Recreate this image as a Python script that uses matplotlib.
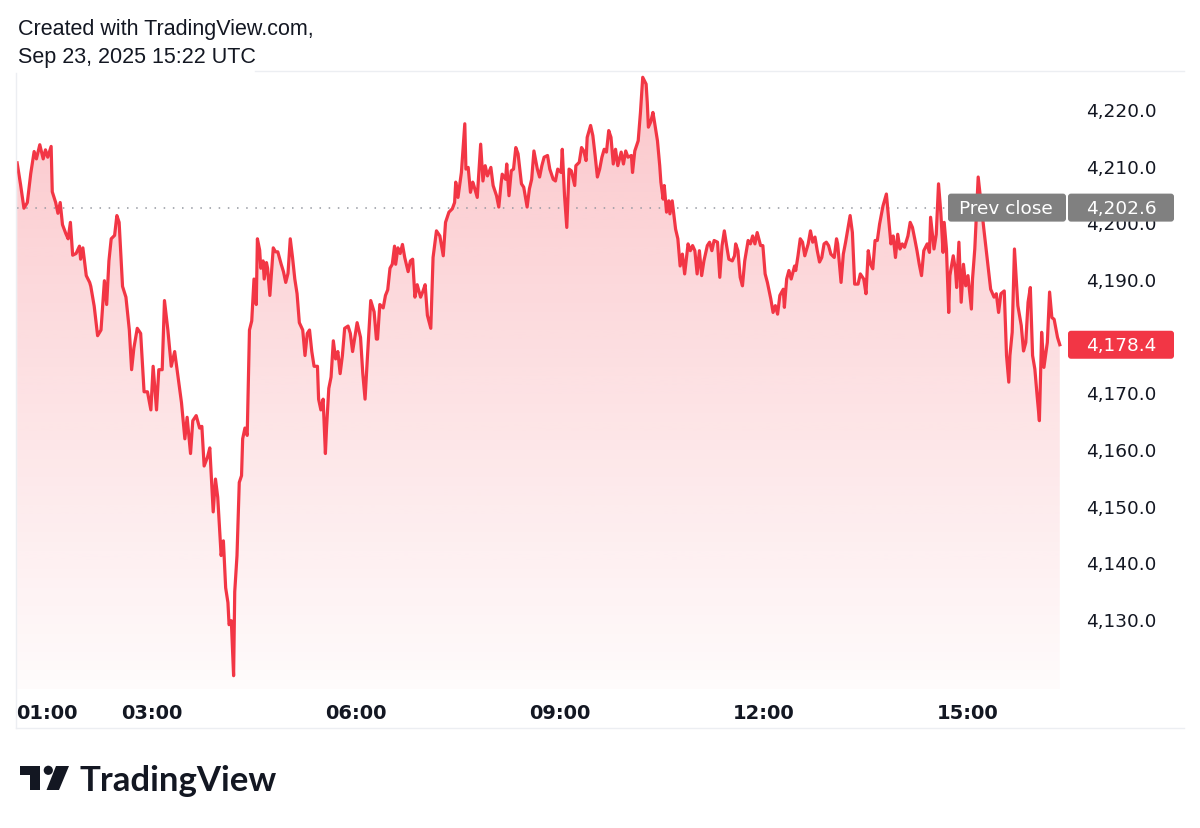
import matplotlib

matplotlib.use("Agg")
import matplotlib.pyplot as plt
import numpy as np
from matplotlib.colors import to_rgb
from matplotlib.patches import Circle, FancyBboxPatch, Polygon

W, H = 1200, 829
RED = "#f23645"
INK = "#131722"
FRAME = "#eceef2"

# minutes after midnight (UTC+1 chart time) and price
minutes = [
    61, 64, 67, 70, 73, 76, 78, 81, 84, 86, 88, 91, 92, 95, 97, 99, 101, 104,
    106, 108, 110, 113, 116, 117, 119, 122, 125, 126, 129, 132, 135, 138, 140,
    142, 144, 147, 149, 151, 154, 157, 160, 162, 164, 167, 170, 173, 176, 179,
    181, 184, 186, 189, 191, 194, 197, 200, 203, 206, 209, 211, 214, 216, 219,
    222, 224, 226, 229, 231, 234, 236, 238, 241, 243, 245, 247, 248, 250, 252,
    253, 255, 257, 259, 260, 262, 264, 266, 268, 270, 272, 273, 275, 276, 278,
    279, 281, 282, 284, 287, 289, 291, 294, 296, 298, 300, 302, 304, 306, 308,
    310, 313, 315, 317, 319, 321, 323, 326, 327, 329, 331, 333, 334, 336, 338,
    340, 342, 344, 346, 348, 350, 353, 355, 357, 359, 361, 364, 366, 368, 370,
    373, 376, 378, 379, 381, 384, 386, 388, 390, 392, 394, 395, 397, 399, 401,
    403, 406, 408, 410, 412, 414, 417, 419, 421, 423, 426, 428, 431, 434, 437,
    439, 442, 445, 447, 448, 450, 453, 456, 457, 459, 461, 463, 464, 467, 470,
    472, 474, 476, 479, 481, 484, 486, 488, 489, 492, 493, 495, 497, 499, 501,
    503, 506, 508, 511, 513, 515, 517, 520, 522, 524, 526, 529, 531, 534, 536,
    538, 541, 542, 544, 546, 548, 550, 553, 554, 557, 559, 561, 563, 564, 567,
    569, 571, 573, 575, 577, 579, 581, 583, 585, 587, 589, 591, 594, 596, 598,
    600, 603, 604, 606, 609, 611, 613, 616, 617, 618, 620, 622, 623, 626, 628,
    629, 631, 632, 634, 636, 637, 639, 642, 644, 646, 648, 650, 653, 655, 657,
    659, 661, 663, 665, 667, 670, 672, 674, 676, 679, 681, 683, 685, 687, 689,
    692, 694, 695, 697, 699, 701, 703, 706, 708, 710, 712, 714, 717, 719, 721,
    723, 726, 728, 730, 732, 734, 737, 738, 740, 742, 744, 747, 748, 750, 752,
    754, 756, 759, 761, 763, 765, 767, 769, 771, 773, 775, 777, 779, 782, 784,
    785, 788, 790, 792, 794, 796, 798, 800, 803, 805, 808, 810, 812, 814, 816,
    818, 820, 822, 825, 828, 830, 832, 834, 836, 838, 840, 842, 844, 847, 849,
    851, 853, 855, 857, 859, 861, 864, 866, 867, 870, 872, 874, 876, 878, 879,
    881, 883, 884, 887, 889, 890, 892, 894, 896, 898, 900, 903, 904, 906, 909,
    912, 914, 916, 918, 920, 923, 925, 927, 929, 932, 934, 936, 937, 939, 941,
    944, 947, 949, 951, 953, 955, 957, 959, 961, 963, 965, 967, 970, 972, 974,
    976, 979, 981,
]
prices = [
    4210.5, 4206.7, 4202.5, 4203.5, 4208.6, 4212.5, 4211.2, 4213.7, 4211.2,
    4212.8, 4211.5, 4213.4, 4205.4, 4203.5, 4201.6, 4203.5, 4199.6, 4198.0,
    4197.1, 4200.0, 4194.2, 4194.5, 4195.8, 4193.5, 4195.5, 4190.6, 4189.4,
    4188.7, 4185.2, 4180.0, 4181.0, 4189.7, 4185.5, 4193.2, 4197.1, 4197.7,
    4201.2, 4200.0, 4188.7, 4186.8, 4181.0, 4174.0, 4177.8, 4181.3, 4180.4,
    4170.1, 4170.1, 4166.9, 4174.6, 4166.9, 4174.0, 4174.0, 4186.2, 4181.0,
    4174.6, 4177.2, 4172.7, 4168.2, 4161.8, 4165.6, 4159.2, 4165.0, 4165.9,
    4163.7, 4164.0, 4157.0, 4158.6, 4160.2, 4148.9, 4154.7, 4151.5, 4141.2,
    4143.8, 4135.5, 4132.9, 4129.0, 4129.7, 4120.0, 4134.8, 4141.2, 4154.1,
    4155.3, 4161.8, 4163.7, 4162.4, 4181.0, 4182.6, 4190.0, 4185.5, 4197.1,
    4195.1, 4191.9, 4193.2, 4190.0, 4192.9, 4191.9, 4187.1, 4195.5, 4194.8,
    4194.8, 4192.6, 4191.3, 4189.4, 4191.0, 4197.1, 4193.8, 4190.0, 4187.4,
    4182.3, 4181.0, 4176.5, 4180.4, 4181.0, 4177.2, 4174.6, 4174.6, 4168.8,
    4166.9, 4168.8, 4159.2, 4163.7, 4170.7, 4172.7, 4179.1, 4175.9, 4177.2,
    4173.3, 4176.5, 4181.3, 4181.7, 4180.4, 4177.2, 4179.7, 4182.3, 4179.7,
    4173.3, 4168.8, 4175.9, 4186.2, 4184.2, 4179.4, 4179.4, 4185.5, 4184.9,
    4187.1, 4188.1, 4191.9, 4192.6, 4195.8, 4192.6, 4195.5, 4194.5, 4196.1,
    4193.8, 4191.3, 4193.2, 4193.5, 4186.8, 4189.0, 4186.8, 4187.8, 4189.0,
    4183.6, 4181.3, 4193.8, 4198.5, 4197.6, 4194.1, 4200.0, 4201.8, 4202.4,
    4203.5, 4207.1, 4204.4, 4208.8, 4217.4, 4209.4, 4209.7, 4205.3, 4207.1,
    4206.5, 4204.4, 4213.8, 4207.3, 4210.0, 4208.2, 4209.7, 4206.5, 4204.7,
    4202.7, 4206.8, 4208.5, 4207.6, 4210.3, 4204.7, 4209.1, 4209.4, 4213.2,
    4212.1, 4206.8, 4206.2, 4202.7, 4205.9, 4207.6, 4212.6, 4209.4, 4208.0,
    4210.0, 4211.5, 4211.8, 4209.4, 4207.6, 4207.3, 4209.4, 4208.8, 4212.9,
    4204.7, 4199.1, 4209.4, 4209.1, 4206.5, 4210.0, 4210.6, 4213.2, 4212.6,
    4210.9, 4215.0, 4217.1, 4215.3, 4211.8, 4208.0, 4209.4, 4211.5, 4212.9,
    4212.4, 4216.2, 4215.0, 4210.3, 4212.9, 4210.0, 4212.4, 4210.3, 4212.6,
    4211.5, 4211.8, 4208.8, 4212.6, 4214.4, 4219.4, 4225.6, 4224.4, 4221.2,
    4216.8, 4217.7, 4219.4, 4218.2, 4214.4, 4210.0, 4207.1, 4204.1, 4206.5,
    4201.8, 4203.8, 4201.5, 4203.8, 4198.8, 4197.1, 4192.3, 4194.4, 4190.9,
    4196.2, 4195.0, 4195.9, 4195.0, 4190.9, 4195.0, 4190.6, 4193.2, 4195.9,
    4196.5, 4195.0, 4196.8, 4196.5, 4190.3, 4195.9, 4198.5, 4195.9, 4193.5,
    4193.2, 4194.1, 4196.2, 4195.0, 4190.3, 4188.8, 4193.2, 4196.8, 4196.2,
    4197.6, 4196.2, 4198.2, 4195.9, 4195.9, 4190.9, 4189.4, 4186.5, 4184.1,
    4185.3, 4183.8, 4187.1, 4188.2, 4185.0, 4190.0, 4191.5, 4190.0, 4192.3,
    4191.5, 4194.1, 4197.1, 4196.5, 4194.1, 4196.2, 4198.5, 4196.5, 4197.4,
    4195.0, 4193.0, 4193.8, 4196.2, 4196.5, 4195.9, 4194.4, 4193.8, 4197.1,
    4196.2, 4189.4, 4194.4, 4196.5, 4198.8, 4201.2, 4198.2, 4189.1, 4189.1,
    4190.9, 4190.0, 4187.4, 4195.0, 4192.6, 4191.8, 4196.8, 4196.8, 4199.7,
    4202.9, 4205.0, 4200.6, 4196.2, 4197.6, 4193.8, 4197.9, 4195.3, 4196.2,
    4195.6, 4197.6, 4200.0, 4199.1, 4197.1, 4195.0, 4192.6, 4190.6, 4195.0,
    4196.2, 4194.7, 4200.9, 4195.3, 4197.9, 4206.8, 4201.8, 4194.7, 4200.0,
    4195.3, 4184.1, 4190.6, 4194.1, 4191.5, 4188.5, 4196.5, 4185.9, 4192.6,
    4188.8, 4190.6, 4184.7, 4190.0, 4195.3, 4208.0, 4202.4, 4198.8, 4195.3,
    4191.8, 4188.2, 4186.8, 4187.4, 4184.1, 4187.4, 4187.9, 4176.5, 4171.8,
    4176.5, 4180.6, 4195.3, 4185.3, 4181.8, 4177.3, 4178.8, 4185.9, 4188.5,
    4176.5, 4174.1, 4169.4, 4165.0, 4180.6, 4174.4, 4178.8, 4187.7, 4183.2,
    4182.9, 4179.7, 4178.4,
]
prev_close = 4202.6
last_price = 4178.4

time_ticks = [60, 180, 360, 540, 720, 900]
time_labels = ["01:00", "03:00", "06:00", "09:00", "12:00", "15:00"]
price_ticks = [4130, 4140, 4150, 4160, 4170, 4180, 4190, 4200, 4210, 4220]

fig = plt.figure(figsize=(W / 100, H / 100), dpi=100, facecolor="white")

# chart pane, placed in pixel units (left, right, top, bottom)
L, R, T, B = 16, 1065, 72, 690
ax = fig.add_axes([L / W, 1 - B / H, (R - L) / W, (B - T) / H])
ax.patch.set_alpha(0)
for s in ax.spines.values():
    s.set_visible(False)

x = np.array(minutes, dtype=float)
y = np.array(prices)
ylo, yhi = 4117.65, 4226.71

# gradient area under the line
verts = np.column_stack([np.r_[x, x[::-1]], np.r_[y, np.full_like(y, ylo)]])
clip = Polygon(verts, closed=True, facecolor="none", edgecolor="none",
               transform=ax.transData)
ax.add_patch(clip)
rgba = np.zeros((256, 1, 4))
rgba[..., :3] = to_rgb(RED)
rgba[:, 0, 3] = np.linspace(0.28, 0.02, 256)
im = ax.imshow(rgba, extent=(x[0], x[-1], ylo, y.max()), origin="upper",
               aspect="auto", interpolation="bilinear", zorder=1)
im.set_clip_path(clip)

ax.plot(x, y, color=RED, lw=2.3, solid_joinstyle="round", zorder=3)

ax.set_xlim(60, 985.6)
ax.set_ylim(ylo, yhi)

# prev close dotted line, stops at the label
ax.axhline(prev_close, xmin=0.001, xmax=(948 - L) / (R - L),
           color="#9598a1", lw=1.1, ls=(0, (1, 5)), zorder=2)

ax.set_xticks(time_ticks, time_labels)
ax.tick_params(axis="x", length=0, pad=10, labelsize=14, labelcolor=INK)
for lab in ax.get_xticklabels():
    lab.set_fontweight("bold")
ax.get_xticklabels()[0].set_horizontalalignment("left")

ax.yaxis.tick_right()
ax.set_yticks(price_ticks, [f"{v:,.1f}" for v in price_ticks])
ax.tick_params(axis="y", length=0, pad=15, labelsize=13.3, labelcolor=INK)

# overlay in pixel coordinates (top-down) for frame, header, badges, logo
ov = fig.add_axes([0, 0, 1, 1], zorder=5)
ov.set_xlim(0, W)
ov.set_ylim(H, 0)
ov.axis("off")
ov.patch.set_visible(False)


def ypix(value):
    return H - ax.transData.transform((x[0], value))[1]


ov.plot([255, 1184], [72, 72], color=FRAME, lw=1)
ov.plot([16, 16], [74, 729], color=FRAME, lw=1)
ov.plot([16, 1184], [729, 729], color=FRAME, lw=1)

ov.text(18, 29, "Created with TradingView.com,", ha="left", va="center",
        fontsize=15.5, family="Liberation Sans", color=INK)
ov.text(18, 57, "Sep 23, 2025 15:22 UTC", ha="left", va="center",
        fontsize=15.5, family="Liberation Sans", color=INK)


def _badge(x0, x1, yc, fill):
    ov.add_patch(FancyBboxPatch((x0, yc - 14), x1 - x0, 28,
                                boxstyle="round,pad=0,rounding_size=3",
                                facecolor=fill, edgecolor="none", zorder=6))


yp = ypix(prev_close)
_badge(948, 1066, yp, "#808080")
_badge(1068, 1174, yp, "#808080")
ov.text(1006, yp, "Prev close", ha="center", va="center", fontsize=13.3,
        color="white", zorder=7)
ov.text(1086, yp, f"{prev_close:,.1f}", ha="left", va="center",
        fontsize=13.3, color="white", zorder=7)

yl = ypix(last_price)
_badge(1068, 1174, yl, RED)
ov.text(1086, yl, f"{last_price:,.1f}", ha="left", va="center",
        fontsize=13.3, color="white", zorder=7)

# TradingView logo
ov.add_patch(Polygon([(20, 767), (40, 767), (40, 791), (29.5, 791),
                      (29.5, 775.5), (20, 775.5)], closed=True,
                     facecolor=INK, edgecolor="none"))
ov.add_patch(Circle((48.3, 771.3), 4.6, facecolor=INK, edgecolor="none"))
ov.add_patch(Polygon([(56, 767), (69, 767), (59, 791), (46.5, 791)],
                     closed=True, facecolor=INK, edgecolor="none"))
ov.text(79, 791, "TradingView", ha="left", va="baseline", fontsize=25,
        fontweight="bold", family="Lato", color=INK)

fig.savefig("out.png", dpi=100, facecolor="white")
